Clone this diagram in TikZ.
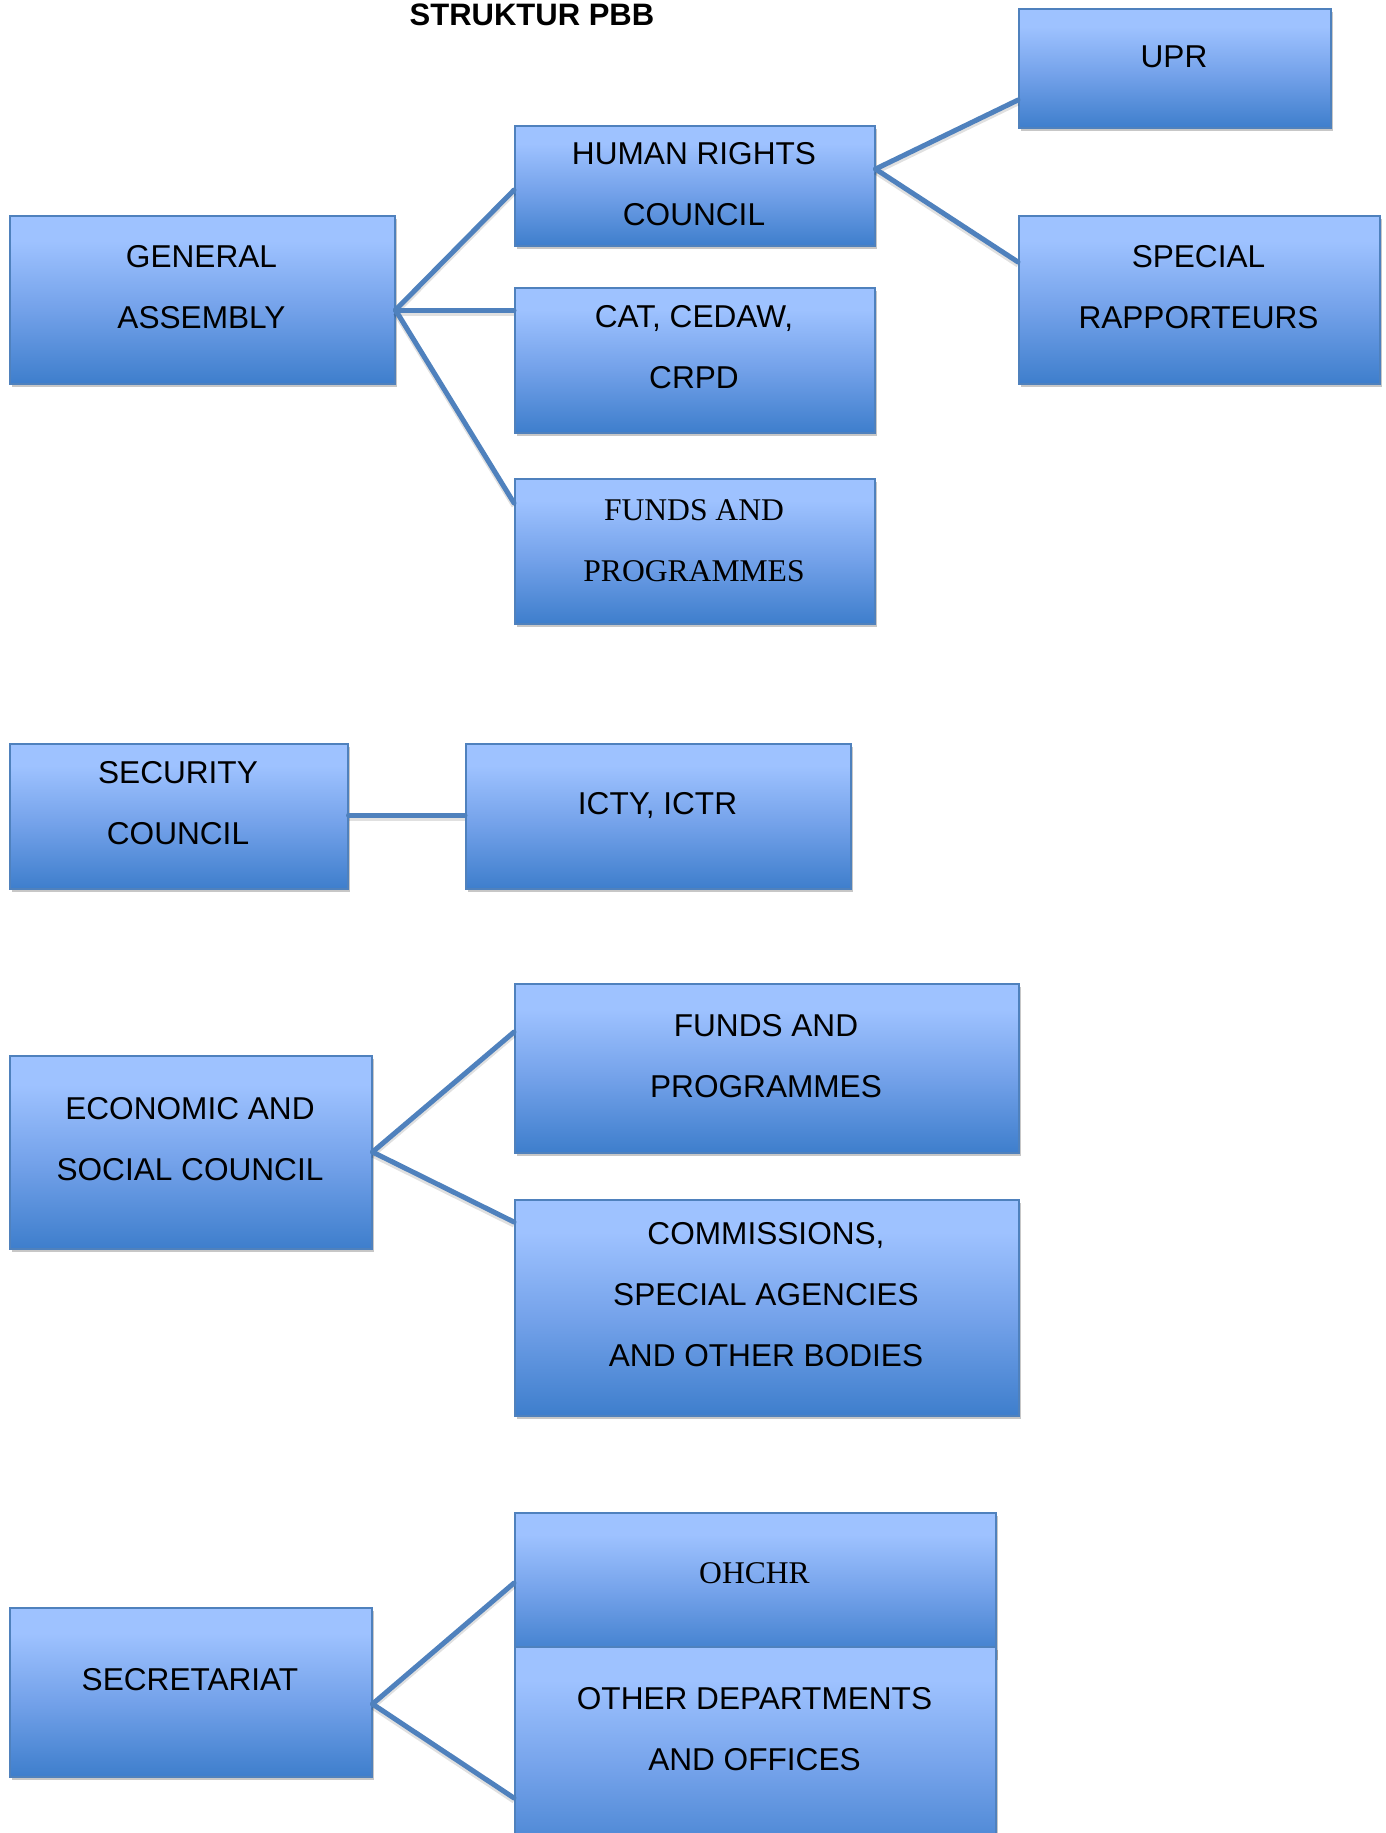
\documentclass[tikz,border=0pt]{standalone}
\usepackage{fontspec}
\setmainfont{Liberation Sans}
\newfontfamily\timesfont{Liberation Serif}
\usetikzlibrary{shadows,calc}
\definecolor{boxedge}{RGB}{79,129,189}
\definecolor{boxtop}{RGB}{158,194,255}
\definecolor{boxmid}{RGB}{116,162,234}
\definecolor{boxbot}{RGB}{62,126,204}
\definecolor{linkcol}{RGB}{79,129,189}
\pgfdeclareverticalshading{boxshade}{100bp}{color(0bp)=(boxbot); color(25bp)=(boxbot); color(47.5bp)=(boxmid); color(67.5bp)=(boxtop); color(100bp)=(boxtop)}
\newcommand\lns[1]{\begin{tabular}[t]{@{}c@{}}#1\end{tabular}}
\newcommand\mkbox[5]{\node[box, minimum width={(#4-#2)*0.5pt}, minimum height={(#5-#3)*0.5pt}] (#1) at (#2,#3) {};}
\tikzset{
  box/.style={rectangle, anchor=north west, inner sep=0pt, draw=boxedge, line width=0.75pt,
    shade, shading=boxshade,
    drop shadow={shadow xshift=1.2pt, shadow yshift=-1.8pt, opacity=0.22, fill=black}},
  txt/.style={anchor=base, inner sep=0pt, font=\fontsize{15.8}{30.5}\selectfont},
  serif/.style={txt, font=\timesfont\fontsize{15.8}{30.5}\selectfont},
  ttl/.style={anchor=base, inner sep=0pt, font=\bfseries\fontsize{15.5}{18}\selectfont},
  link/.style={draw=linkcol, line width=2.5pt, line cap=round,
    preaction={draw=black, opacity=0.12, line width=2.5pt, transform canvas={yshift=-1.5pt}}}
}
\begin{document}
\begin{tikzpicture}[x=0.5pt, y=-0.5pt]
\useasboundingbox (0,0) rectangle (1386,1833);
\clip (0,0) rectangle (1386,1833);
% boxes
\mkbox{upr}{1018}{8}{1330}{127}
\mkbox{hrc}{514}{125}{874}{245}
\mkbox{ga}{9}{215}{394}{383}
\mkbox{sr}{1018}{215}{1379}{383}
\mkbox{cat}{514}{287}{874}{432}
\mkbox{fpa}{514}{478}{874}{623}
\mkbox{sc}{9}{743}{347}{888}
\mkbox{icty}{465}{743}{850}{888}
\mkbox{eco}{9}{1055}{371}{1248}
\mkbox{fpb}{514}{983}{1018}{1152}
\mkbox{comm}{514}{1199}{1018}{1415}
\mkbox{sec}{9}{1607}{371}{1776}
\mkbox{ohchr}{514}{1512}{995}{1656}
\mkbox{other}{514}{1646}{995}{1870}
% texts
\node[ttl] (title) at (532,25) {STRUKTUR PBB};
\node[txt] (uprT) at (1174,67) {UPR};
\node[txt] (hrcT) at (694,164) {\lns{HUMAN RIGHTS\\COUNCIL}};
\node[txt] (gaT) at (201.5,267) {\lns{GENERAL\\ASSEMBLY}};
\node[txt] (srT) at (1198.5,267) {\lns{SPECIAL\\RAPPORTEURS}};
\node[txt] (catT) at (694,327) {\lns{CAT, CEDAW,\\CRPD}};
\node[serif] (fpaT) at (694,520) {\lns{FUNDS AND\\PROGRAMMES}};
\node[txt] (scT) at (178,783) {\lns{SECURITY\\COUNCIL}};
\node[txt] (ictyT) at (657.5,814) {ICTY, ICTR};
\node[txt] (fpbT) at (766,1036) {\lns{FUNDS AND\\PROGRAMMES}};
\node[txt] (ecoT) at (190,1119) {\lns{ECONOMIC AND\\SOCIAL COUNCIL}};
\node[txt] (commT) at (766,1244) {\lns{COMMISSIONS,\\SPECIAL AGENCIES\\AND OTHER BODIES}};
\node[txt] (secT) at (190,1690) {SECRETARIAT};
\node[serif] (ohchrT) at (754.5,1583) {OHCHR};
\node[txt] (otherT) at (754.5,1709) {\lns{OTHER DEPARTMENTS\\AND OFFICES}};
% connectors
\draw[link] ($(ga.north east)+(0,95)$) -- ($(hrc.north west)+(0,65)$);
\draw[link] ($(ga.north east)+(0,95)$) -- ($(cat.north west)+(0,23)$);
\draw[link] ($(ga.north east)+(0,95)$) -- ($(fpa.north west)+(0,25)$);
\draw[link] ($(hrc.north east)+(0,44)$) -- ($(upr.north west)+(0,92)$);
\draw[link] ($(hrc.north east)+(0,44)$) -- ($(sr.north west)+(0,47)$);
\draw[link] ($(sc.north east)+(0,72)$) -- ($(icty.north west)+(0,72)$);
\draw[link] ($(eco.north east)+(0,97)$) -- ($(fpb.north west)+(0,49)$);
\draw[link] ($(eco.north east)+(0,97)$) -- ($(comm.north west)+(0,23)$);
\draw[link] ($(sec.north east)+(0,97)$) -- ($(ohchr.north west)+(0,71)$);
\draw[link] ($(sec.north east)+(0,97)$) -- ($(other.north west)+(0,152)$);
\end{tikzpicture}
\end{document}
